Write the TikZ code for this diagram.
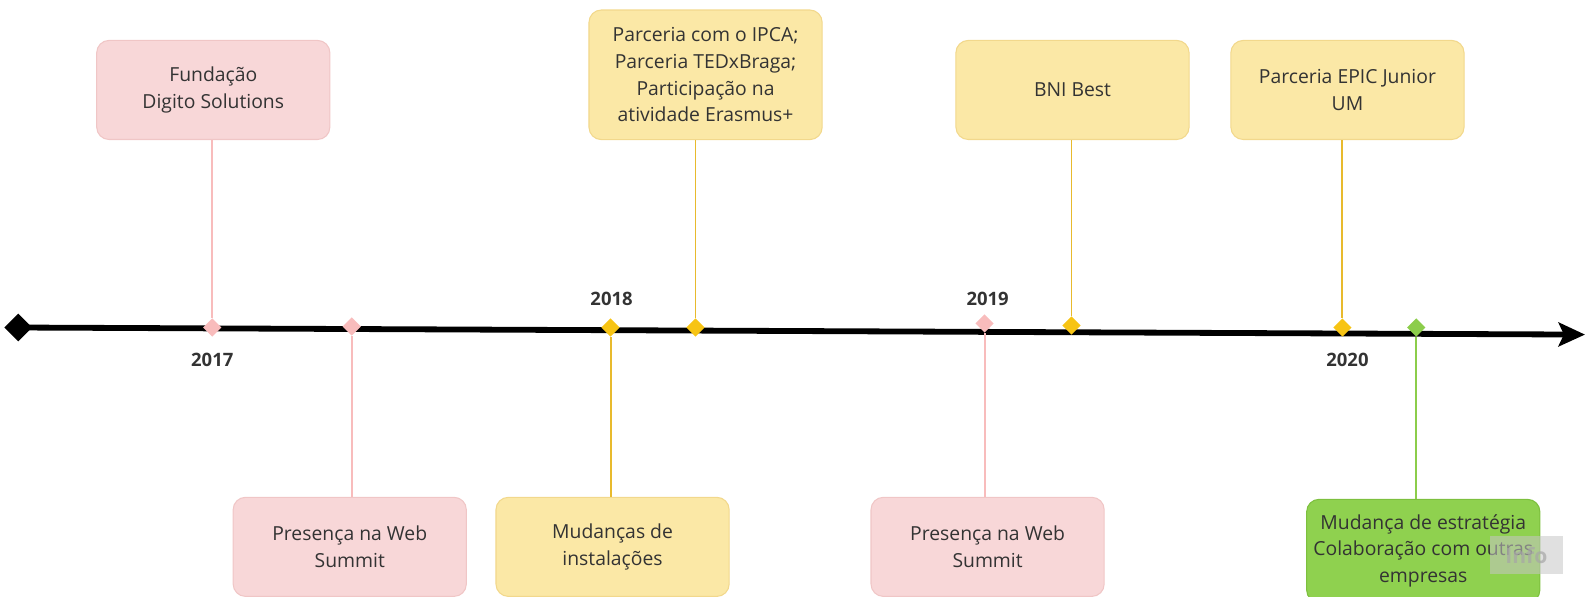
\documentclass[tikz,border=0pt]{standalone}
\usepackage{fontspec}
\setmainfont{Open Sans}
\usetikzlibrary{arrows.meta,shapes.geometric}
\definecolor{txt}{RGB}{51,51,51}
\definecolor{pinkfill}{RGB}{248,215,216}
\definecolor{pinkedge}{RGB}{240,198,198}
\definecolor{pinkmark}{RGB}{248,188,188}
\definecolor{yelfill}{RGB}{251,232,166}
\definecolor{yeledge}{RGB}{242,216,140}
\definecolor{yelmark}{RGB}{247,196,20}
\definecolor{yelline}{RGB}{232,186,45}
\definecolor{grnfill}{RGB}{143,209,79}
\definecolor{grnedge}{RGB}{125,192,62}
\definecolor{grnmark}{RGB}{140,205,75}
\begin{document}
\begin{tikzpicture}[x=0.0202cm,y=-0.0202cm,
  box/.style={rounded corners=7pt, draw, line width=0.6pt, minimum width=4.66cm,
    minimum height=1.98cm, align=center, text=txt, inner sep=2pt,
    font=\fontsize{11}{15.2}\selectfont},
  pinkbox/.style={box, fill=pinkfill, draw=pinkedge},
  yelbox/.style={box, fill=yelfill, draw=yeledge},
  grnbox/.style={box, fill=grnfill, draw=grnedge},
  tlmark/.style={diamond, minimum size=10.5pt, inner sep=0pt, draw=none},
  pinkdot/.style={tlmark, fill=pinkmark},
  yeldot/.style={tlmark, fill=yelmark},
  grndot/.style={tlmark, fill=grnmark},
  pinkconn/.style={draw=pinkmark, line width=1.1pt},
  yelconn/.style={draw=yelline, line width=1.1pt},
  grnconn/.style={draw=grnmark, line width=1.1pt},
  year/.style={font=\fontsize{10.5}{12}\selectfont\bfseries, text=txt, inner sep=0pt}
]
\useasboundingbox (0,0) rectangle (1568,590);

% boxes
\node[pinkbox] (fund) at (211,89) {Fundação\\Digito Solutions};
\node[pinkbox] (pres1) at (346,541) {Presença na Web\\Summit};
\node[yelbox] (mud) at (606,541) {Mudanças de\\instalações};
\node[yelbox, minimum height=2.59cm] (ipca) at (698,74) {Parceria com o IPCA;\\Parceria TEDxBraga;\\Participação na\\atividade Erasmus+};
\node[yelbox] (bni) at (1061,89) {BNI Best};
\node[pinkbox] (pres2) at (977,541) {Presença na Web\\Summit};
\node[yelbox] (epic) at (1333,89) {Parceria EPIC Junior\\UM};
\node[grnbox, minimum height=2.06cm] (grn) at (1408,545) {Mudança de estratégia\\Colaboração com outras\\empresas};

% timeline
\node[diamond, fill=black, minimum size=16pt, inner sep=0pt] (d0) at (18,324) {};
\coordinate (tip) at (1568,331);
\draw[line width=3.3pt, -{Stealth[length=15pt, width=13.5pt, inset=3pt]}] (d0.center) -- (tip);

% markers
\node[pinkdot] (d17) at (210,324) {};
\node[pinkdot] (dp1) at (348,323) {};
\node[yeldot] (d18) at (604,324) {};
\node[yeldot] (dipca) at (688,324) {};
\node[pinkdot] (d19) at (974,320) {};
\node[yeldot] (dbni) at (1060,322) {};
\node[yeldot] (depic) at (1328,324) {};
\node[grndot] (dgrn) at (1401,324) {};

% connectors
\draw[pinkconn] (fund.south -| d17) -- (d17.north);
\draw[pinkconn] (dp1.south) -- (dp1 |- pres1.north);
\draw[yelconn] (d18.south) -- (d18 |- mud.north);
\draw[yelconn] (ipca.south -| dipca) -- (dipca.north);
\draw[pinkconn] (d19.south) -- (d19 |- pres2.north);
\draw[yelconn] (bni.south -| dbni) -- (dbni.north);
\draw[yelconn] (epic.south -| depic) -- (depic.north);
\draw[grnconn] (dgrn.south) -- (dgrn |- grn.north);

% year labels
\node[year] (y17) at (210,356) {2017};
\node[year] (y18) at (605,296) {2018};
\node[year] (y19) at (977,296) {2019};
\node[year] (y20) at (1333,356) {2020};

% info overlay
\fill[gray!45, opacity=0.55] (1474,530) rectangle (1546,568);
\node[font=\fontsize{12}{14}\selectfont\bfseries, text=gray!70, opacity=0.7] (info) at (1510,550) {Info};
\end{tikzpicture}
\end{document}
